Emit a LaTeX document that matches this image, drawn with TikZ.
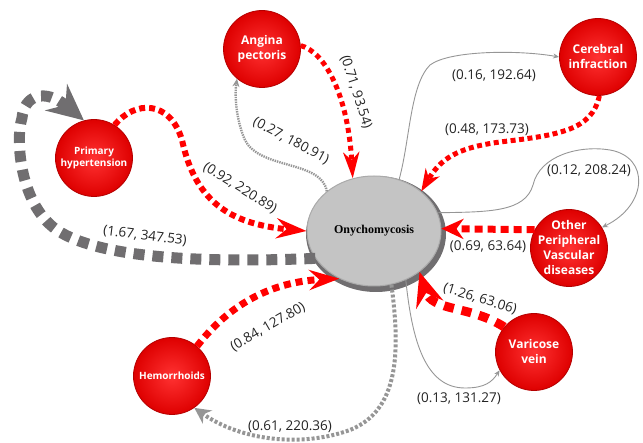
\documentclass[tikz,border=0pt]{standalone}
\usepackage{fontspec}
\setmainfont{Open Sans}
\newfontfamily\onyfont{Liberation Serif}
\usetikzlibrary{shapes,arrows.meta,positioning,calc}

\definecolor{dred}{RGB}{255,0,0}
\definecolor{dgray}{RGB}{112,110,112}
\definecolor{lgray}{RGB}{150,150,150}
\definecolor{txt}{RGB}{35,35,35}

\begin{document}
\begin{tikzpicture}[x=1pt,y=-1pt,
    disease/.style={circle, minimum size=77pt, inner sep=-8pt, align=center, text=white,
      font=\bfseries\fontsize{12}{15}\selectfont,
      inner color={rgb,255:red,255;green,50;blue,50}, outer color={rgb,255:red,222;green,0;blue,0},
      draw={rgb,255:red,180;green,0;blue,0}, line width=0.8pt},
    smalltext/.style={font=\bfseries\fontsize{10}{12}\selectfont},
    lbl/.style={font=\fontsize{13.5}{15}\selectfont, text=txt, inner sep=1pt},
    thin/.style={draw=lgray, line width=0.9pt, -{Stealth[length=6pt,width=5pt]}}]
    \useasboundingbox (0,0) rectangle (643,443);

    % Disease nodes
    \node[disease] (ang) at (262,49) {Angina\\pectoris};
    \node[disease] (cer) at (598,57) {Cerebral\\infraction};
    \node[disease, smalltext] (ph) at (94,158) {Primary\\hypertension};
    \node[disease] (oth) at (569,248) {Other\\Peripheral\\Vascular\\diseases};
    \node[disease] (var) at (534,352) {Varicose\\vein};
    \node[disease, smalltext] (hem) at (172,376) {Hemorrhoids};

    % Onychomycosis
    \fill[dgray] (376,234) ellipse (70 and 58);
    \node[ellipse, minimum width=134pt, minimum height=110pt, fill={rgb,255:red,196;green,196;blue,196},
      draw={rgb,255:red,170;green,170;blue,170}, line width=1pt, font=\onyfont\bfseries\fontsize{12}{13}\selectfont]
      (ony) at (374,231) {Onychomycosis};

    % Connectors
    \draw[dred, line width=5pt, dash pattern=on 5pt off 4pt, -{Stealth[length=26pt,width=16pt,inset=8pt]}]
      (ang.5) .. controls (325,52) and (348,95) .. (ony.112);
    \draw[lgray, line width=2.4pt, dash pattern=on 1.4pt off 1pt, -{Stealth[length=8pt,width=7pt]}]
      (ony.140) .. controls (322,160) and (260,170) .. (245,140) .. controls (238,125) and (234,100) .. (ang.230);
    \draw[thin] (ony.64) .. controls (410,140) and (410,85) .. (430,65) .. controls (450,50) and (520,50) .. (cer.180);
    \draw[dred, line width=5pt, dash pattern=on 5pt off 3.5pt, -{Stealth[length=22pt,width=16pt,inset=7pt]}]
      (cer.272) .. controls (592,130) and (560,135) .. (500,142) .. controls (455,148) and (440,160) .. (ony.40);
    \draw[thin] (ony.16) .. controls (490,212) and (525,212) .. (533,185) .. controls (540,155) and (580,145) .. (610,150)
      .. controls (650,157) and (648,205) .. (oth.32);
    \draw[dred, line width=7pt, dash pattern=on 8pt off 5pt, -{Stealth[length=22pt,width=20pt,inset=7pt]}]
      (oth.152) -- (ony.2);
    \draw[dred, line width=6pt, dash pattern=on 6pt off 4pt, -{Stealth[length=30pt,width=20pt,inset=10pt]}]
      (ph.58) .. controls (135,100) and (170,100) .. (182,140) .. controls (195,200) and (228,224) .. (ony.180);
    \draw[dgray, line width=11pt, dash pattern=on 11pt off 8pt, -{Stealth[length=36pt,width=34pt,inset=12pt]}]
      (ony.205) .. controls (230,262) and (110,262) .. (60,232) .. controls (20,208) and (15,140) .. (22,118)
      .. controls (24,95) and (45,88) .. (ph.105);
    \draw[dred, line width=7pt, dash pattern=on 7pt off 5pt, -{Stealth[length=30pt,width=20pt,inset=10pt]}]
      (hem.50) .. controls (225,310) and (265,282) .. (ony.234);
    \draw[lgray, line width=4pt, dash pattern=on 3pt off 2pt, -{Stealth[length=16pt,width=16pt,inset=5pt]}]
      (ony.288) .. controls (400,350) and (400,410) .. (350,430) .. controls (300,448) and (240,440) .. (hem.-55);
    \draw[dred, line width=9pt, dash pattern=on 10pt off 8pt, -{Stealth[length=34pt,width=28pt,inset=12pt]}]
      (var.140) .. controls (470,305) and (432,312) .. (ony.318);
    \draw[thin] (ony.303) .. controls (412,340) and (425,388) .. (465,388) .. controls (485,388) and (492,382) .. (var.208);

    % Labels
    \node[lbl, rotate=-72] (l1) at (356,92) {(0.71, 93.54)};
    \node[lbl, rotate=-28] (l2) at (291,141) {(0.27, 180.91)};
    \node[lbl] (l3) at (494,76) {(0.16, 192.64)};
    \node[lbl] (l4) at (487,130) {(0.48, 173.73)};
    \node[lbl] (l5) at (589,171) {(0.12, 208.24)};
    \node[lbl] (l6) at (488,247) {(0.69, 63.64)};
    \node[lbl, rotate=-32] (l7) at (240,188) {(0.92, 220.89)};
    \node[lbl, rotate=-7] (l8) at (145,236) {(1.67, 347.53)};
    \node[lbl, rotate=30] (l9) at (268,327) {(0.84, 127.80)};
    \node[lbl] (l10) at (290,427) {(0.61, 220.36)};
    \node[lbl, rotate=-17] (l11) at (480,299) {(1.26, 63.06)};
    \node[lbl] (l12) at (459,399) {(0.13, 131.27)};
\end{tikzpicture}
\end{document}
